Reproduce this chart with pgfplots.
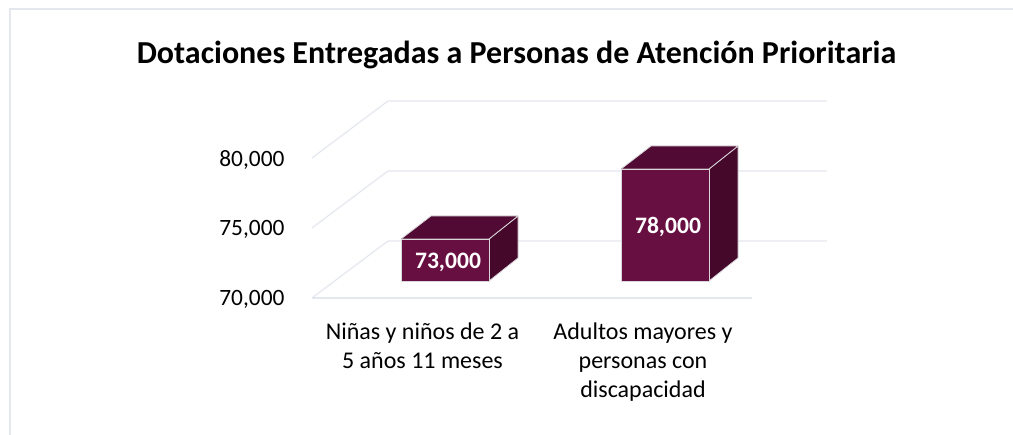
\documentclass[border=0pt]{standalone}
\usepackage{pgfplots}
\pgfplotsset{compat=1.18}
\usepackage{fontspec}
\setmainfont{Carlito}
\definecolor{barfront}{HTML}{680F42}
\definecolor{bartop}{HTML}{500A33}
\definecolor{barside}{HTML}{45082A}
\definecolor{gridc}{HTML}{E4E7EE}
\definecolor{edgec}{HTML}{D9D6DA}
\pgfplotsset{barface/.style={draw=edgec,line width=0.8bp,line join=round}}
\begin{document}
\begin{tikzpicture}[x=1bp,y=1bp]
\path[use as bounding box] (-312,-137) rectangle (701,298);
\draw[gridc,line width=1.2bp] (-302,-137) -- (-302,289) -- (701,289);
\begin{axis}[
  at={(0,0)},anchor=south west,scale only axis,
  width=440bp,height=140bp,
  xmin=312,xmax=752,ymin=70000,ymax=80000,
  clip=false,axis line style={draw=none},
  xtick={422.5,643},xticklabels={{Niñas y niños de 2 a\\5 años 11 meses},{Adultos mayores y\\personas con\\discapacidad}},
  xticklabel style={align=center,font=\fontsize{24bp}{29bp}\selectfont,text depth=0pt,yshift=-21bp},
  ytick={70000,75000,80000},
  yticklabel style={font=\fontsize{23.4bp}{26bp}\selectfont,xshift=-24bp,yshift=-1.8bp},
  /pgf/number format/assume math mode=true,
  scaled y ticks=false,
  yticklabel={\pgfmathprintnumber[1000 sep={,}]{\tick}},
  tick style={draw=none},
]
% floor and walls (gridlines)
\addplot[gridc,line width=1.2bp] coordinates {(312,70000)(752,70000)};
\addplot[gridc,line width=1.2bp] coordinates {(312,70000)(388,74071)(827,74071)};
\addplot[gridc,line width=1.2bp] coordinates {(312,75000)(388,79071)(827,79071)};
\addplot[gridc,line width=1.2bp] coordinates {(312,80000)(388,84071)(827,84071)};
\end{axis}
% the bars stand on a plane 17 px behind the floor front: same scale, true values
\begin{axis}[
  at={(0,17bp)},anchor=south west,scale only axis,
  width=440bp,height=140bp,
  xmin=312,xmax=752,ymin=70000,ymax=80000,
  clip=false,hide axis,
]
\addplot[barface,fill=barside] coordinates {(489,70000)(518,71643)(518,74643)(489,73000)(489,70000)};
\addplot[barface,fill=bartop] coordinates {(401,73000)(431,74643)(518,74643)(489,73000)(401,73000)};
\addplot[barface,fill=barside] coordinates {(709,70000)(738,71643)(738,79643)(709,78000)(709,70000)};
\addplot[barface,fill=bartop] coordinates {(621,78000)(651,79643)(738,79643)(709,78000)(621,78000)};
\addplot[ybar,bar width=88bp,barface,fill=barfront] coordinates {(445,73000)(665,78000)};
\node[white,font=\fontsize{23.6bp}{26bp}\selectfont\bfseries] at (axis cs:448,71360) {73,000};
\node[white,font=\fontsize{23.6bp}{26bp}\selectfont\bfseries] at (axis cs:668,73860) {78,000};
\end{axis}
\node[font=\fontsize{32bp}{36bp}\selectfont\bfseries] at (204.5,243.5) {Dotaciones Entregadas a Personas de Atención Prioritaria};
\end{tikzpicture}
\end{document}
